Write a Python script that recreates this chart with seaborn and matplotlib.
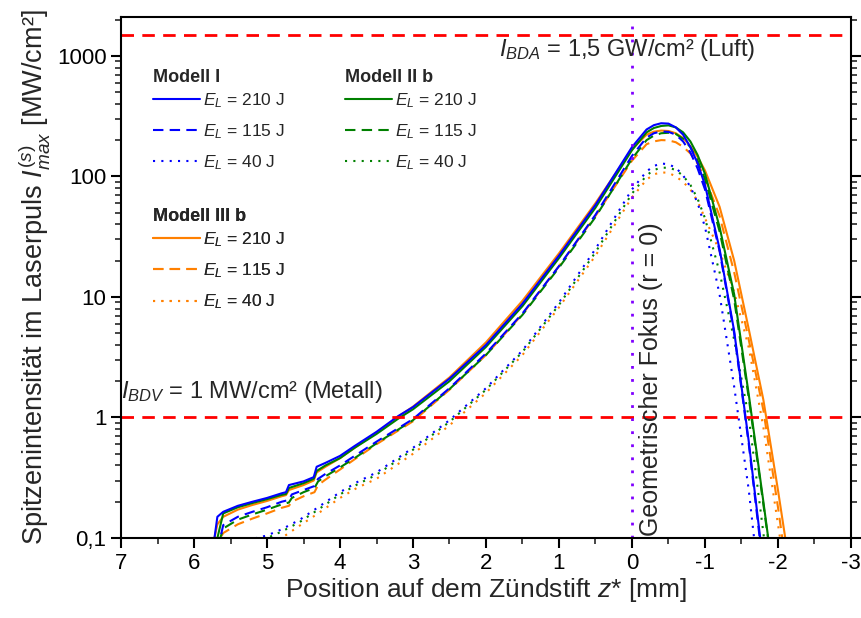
import matplotlib
matplotlib.use("Agg")
import numpy as np
import pandas as pd
import matplotlib.pyplot as plt
import seaborn as sns
from matplotlib.lines import Line2D
from matplotlib.ticker import FixedLocator, FuncFormatter, LogLocator, NullFormatter, MultipleLocator

sns.set_theme(style="ticks")
plt.rcParams['font.family'] = ['Liberation Sans', 'DejaVu Sans']
plt.rcParams['mathtext.fontset'] = 'custom'
plt.rcParams['mathtext.rm'] = 'Liberation Sans'
plt.rcParams['mathtext.it'] = 'Liberation Sans:italic'
plt.rcParams['mathtext.bf'] = 'Liberation Sans:bold'
plt.rcParams['axes.unicode_minus'] = False

# --- Daten ---
# E_L = 210 J
z_210 = [6.0, 5.72, 5.68, 5.6, 5.4, 5.2, 5.0, 4.8, 4.74, 4.7, 4.5, 4.36, 4.32, 4.2, 4.0, 3.8,
         3.5, 3.2, 3.0, 2.5, 2.0, 1.5, 1.0, 0.5, 0.0, -0.2, -0.3, -0.4, -0.5, -0.6, -0.7, -0.8,
         -0.9, -1.0, -1.2, -1.4, -1.6, -1.8, -2.0, -2.2]
m1_210 = [0.1, 0.1, 0.15, 0.165, 0.185, 0.2, 0.215, 0.235, 0.24, 0.275, 0.295, 0.32, 0.39, 0.42,
          0.48, 0.58, 0.76, 1.03, 1.22, 2.1, 4.0, 8.8, 22, 58, 175, 245, 266, 276, 274, 255, 222,
          175, 128, 85, 25, 5.2, 0.63, 0.06, np.nan, np.nan]
m2_210 = [0.1, 0.1, 0.1, 0.16, 0.18, 0.195, 0.21, 0.228, 0.232, 0.26, 0.285, 0.31, 0.36, 0.40,
          0.46, 0.56, 0.73, 0.98, 1.17, 2.0, 3.85, 8.4, 21, 55, 165, 232, 252, 262, 265, 255, 232,
          195, 150, 105, 38, 10.5, 1.55, 0.2, 0.025, np.nan]
m3_210 = [0.1, 0.1, 0.13, 0.15, 0.172, 0.188, 0.203, 0.222, 0.227, 0.25, 0.275, 0.3, 0.35, 0.39,
          0.46, 0.56, 0.75, 1.02, 1.23, 2.15, 4.2, 9.3, 23, 60, 168, 222, 235, 240, 238, 228, 208,
          178, 145, 112, 56, 20, 5.4, 1.4, 0.25, 0.04]

# E_L = 115 J
z_115 = [5.7, 5.64, 5.6, 5.4, 5.2, 5.0, 4.8, 4.7, 4.66, 4.5, 4.35, 4.3, 4.2, 4.0, 3.8, 3.5, 3.0,
         2.5, 2.0, 1.5, 1.0, 0.5, 0.0, -0.2, -0.3, -0.4, -0.5, -0.6, -0.7, -0.8, -0.9, -1.0,
         -1.2, -1.4, -1.6, -1.8, -2.0, -2.2]
m1_115 = [0.1, 0.1, 0.128, 0.15, 0.165, 0.18, 0.2, 0.207, 0.23, 0.25, 0.27, 0.31, 0.34, 0.4,
          0.48, 0.63, 0.97, 1.75, 3.4, 7.3, 18, 48, 148, 210, 228, 236, 234, 222, 195, 158, 116,
          78, 24, 5.0, 0.6, 0.055, np.nan, np.nan]
m2_115 = [0.1, 0.1, 0.12, 0.142, 0.157, 0.172, 0.19, 0.197, 0.215, 0.24, 0.26, 0.295, 0.325,
          0.385, 0.46, 0.61, 0.95, 1.72, 3.3, 7.1, 17.5, 46, 140, 200, 218, 228, 230, 225, 205,
          175, 135, 95, 35, 9.5, 1.45, 0.19, 0.025, np.nan]
m3_115 = [0.1, 0.1, 0.11, 0.13, 0.145, 0.16, 0.178, 0.185, 0.2, 0.222, 0.24, 0.275, 0.305, 0.37,
          0.45, 0.6, 0.93, 1.7, 3.3, 7.2, 18, 47, 135, 185, 195, 200, 199, 192, 176, 155, 127,
          97, 47, 16, 4.4, 1.15, 0.18, 0.025]

# E_L = 40 J
z_40 = [5.15, 5.0, 4.8, 4.55, 4.3, 4.0, 3.77, 3.5, 3.0, 2.5, 2.0, 1.5, 1.0, 0.5, 0.0, -0.2,
        -0.3, -0.4, -0.5, -0.6, -0.7, -0.8, -0.9, -1.0, -1.2, -1.4, -1.6, -1.8, -2.0, -2.2]
m1_40 = [0.1, 0.105, 0.118, 0.142, 0.18, 0.24, 0.29, 0.35, 0.56, 0.95, 1.75, 3.6, 9.0, 25, 78,
         110, 122, 128, 126, 118, 102, 82, 60, 38, 10.5, 1.8, 0.25, 0.02, np.nan, np.nan]
m2_40 = [np.nan, 0.1, 0.113, 0.136, 0.172, 0.23, 0.277, 0.335, 0.54, 0.92, 1.7, 3.5, 8.6, 23.5,
         72, 102, 113, 118, 118, 113, 101, 85, 65, 45, 16, 4.4, 1.0, 0.11, 0.0125, np.nan]
m3_40 = [np.nan, np.nan, 0.1, 0.127, 0.16, 0.215, 0.26, 0.31, 0.5, 0.86, 1.6, 3.3, 8.2, 22, 67,
         94, 104, 108, 107, 100, 90, 78, 62, 45, 24, 11, 3.8, 0.83, 0.13, 0.02]

modelle = ['Modell I', 'Modell II b', 'Modell III b']
energien = ['210 J', '115 J', '40 J']
farben = {'Modell I': '#0000ff', 'Modell II b': '#008000', 'Modell III b': '#ff8000'}
striche = {'210 J': '', '115 J': (5, 3), '40 J': (1, 3)}

serien = [
    ('Modell III b', '210 J', z_210, m3_210), ('Modell III b', '115 J', z_115, m3_115),
    ('Modell III b', '40 J', z_40, m3_40),
    ('Modell II b', '210 J', z_210, m2_210), ('Modell II b', '115 J', z_115, m2_115),
    ('Modell II b', '40 J', z_40, m2_40),
    ('Modell I', '210 J', z_210, m1_210), ('Modell I', '115 J', z_115, m1_115),
    ('Modell I', '40 J', z_40, m1_40),
]
frames = []
for modell, energie, z, werte in serien:
    frames.append(pd.DataFrame({'z': z, 'I': werte, 'Modell': modell, 'Energie': energie}))
df = pd.concat(frames, ignore_index=True).dropna()

fig = plt.figure(figsize=(8.62, 6.18), dpi=100)
ax = fig.add_axes([0.1404, 0.1294, 0.8468, 0.8431])

for modell, energie, _, _ in serien:
    sub = df[(df['Modell'] == modell) & (df['Energie'] == energie)]
    sns.lineplot(data=sub, x='z', y='I', ax=ax, color=farben[modell], lw=1.5,
                 estimator=None, sort=True, legend=False)
    line = ax.get_lines()[-1]
    if striche[energie]:
        line.set_dashes(striche[energie])
    else:
        line.set_linestyle('-')

ax.set_yscale('log')
ax.set_xlim(7, -3)
ax.set_ylim(0.1, 2100)

# Schwellwerte und Fokus
ax.axhline(1500, color='#ff0000', lw=2, dashes=(4.5, 3))
ax.axhline(1, color='#ff0000', lw=2, dashes=(4.5, 3))
ax.axvline(0, color='#8000ff', lw=2, dashes=(1.0, 3.7))

ax.text(0.518, 0.937, r'$I_{BDA}$ = 1,5 GW/cm² (Luft)', transform=ax.transAxes,
        fontsize=17, ha='left', va='center')
ax.text(0.0, 0.28, r'$I_{BDV}$ = 1 MW/cm² (Metall)', transform=ax.transAxes,
        fontsize=17, ha='left', va='center')
ax.text(0.726, 0.003, 'Geometrischer Fokus (r = 0)', transform=ax.transAxes,
        fontsize=18, rotation=90, ha='center', va='bottom')

# Achsen
ax.xaxis.set_major_locator(MultipleLocator(1))
ax.xaxis.set_minor_locator(MultipleLocator(0.5))
ax.xaxis.set_major_formatter(FuncFormatter(lambda v, p: f'{v:.0f}'))
ax.yaxis.set_major_locator(FixedLocator([0.1, 1, 10, 100, 1000]))
ax.yaxis.set_major_formatter(FuncFormatter(lambda v, p: '0,1' if v < 0.5 else f'{v:.0f}'))
ax.yaxis.set_minor_locator(LogLocator(base=10, subs=np.arange(2, 10)))
ax.yaxis.set_minor_formatter(NullFormatter())

ax.tick_params(axis='both', which='major', direction='out', length=7, width=1.5,
               labelsize=16, color='black', labelcolor='black')
ax.tick_params(axis='both', which='minor', direction='out', length=4, width=1.2)
ax.tick_params(axis='y', which='both', left=True, right=True)
ax.tick_params(axis='x', which='both', bottom=True, top=False)
for s in ax.spines.values():
    s.set_linewidth(1.5)
    s.set_color('black')

ax.set_xlabel('Position auf dem Zündstift $z$* [mm]', fontsize=19, labelpad=2)
ax.set_ylabel(r'Spitzenintensität im Laserpuls $I_{max}^{(s)}$ [MW/cm²]', fontsize=19.5, labelpad=3)

# Legenden
def legende(modell, x, y):
    handles, labels = [], []
    for e in energien:
        h = Line2D([], [], color=farben[modell], lw=1.5)
        if striche[e]:
            h.set_dashes(striche[e])
        handles.append(h)
        labels.append(r'$E_L$ = ' + e)
    leg = ax.legend(handles, labels, title=modell, loc='upper left', bbox_to_anchor=(x, y),
                    frameon=False, fontsize=12.5, title_fontproperties={'weight': 'bold', 'size': 13},
                    alignment='left', handlelength=2.7, handletextpad=0.2, labelspacing=0.72,
                    borderpad=0, borderaxespad=0)
    leg._legend_box.sep = 4
    ax.add_artist(leg)

legende('Modell I', 0.044, 0.901)
legende('Modell II b', 0.307, 0.901)
legende('Modell III b', 0.044, 0.634)

fig.savefig('out.png', dpi=100)
